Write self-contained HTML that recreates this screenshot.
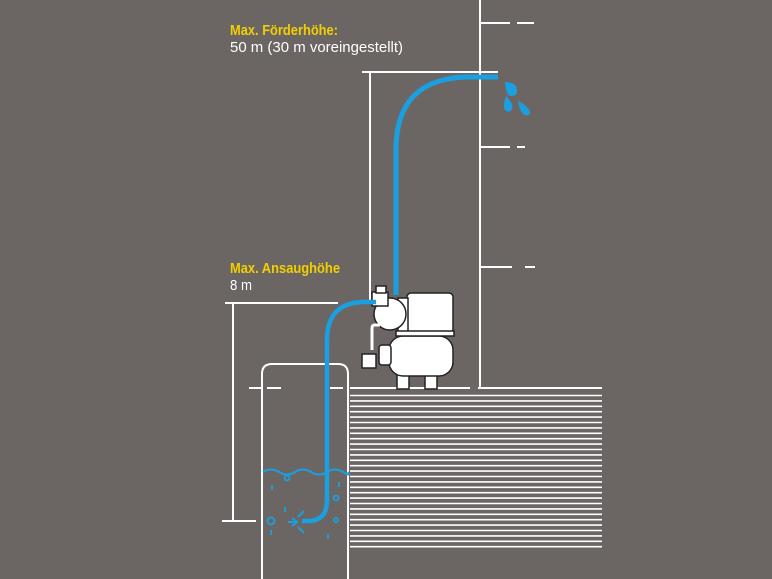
<!DOCTYPE html>
<html><head><meta charset="utf-8"><style>
html,body{margin:0;padding:0;background:#6b6664;}
svg{display:block}
</style></head><body>
<svg width="772" height="579" viewBox="0 0 772 579" xmlns="http://www.w3.org/2000/svg">
<rect width="772" height="579" fill="#6b6664"/>
<g font-family="'Liberation Sans Narrow','Liberation Sans',sans-serif" font-size="15">
<text x="230" y="35" fill="#f2cf00" font-weight="bold" textLength="108" lengthAdjust="spacingAndGlyphs">Max. Förderhöhe:</text>
<text x="230" y="52" fill="#fff" textLength="173" lengthAdjust="spacingAndGlyphs">50 m  (30 m voreingestellt)</text>
<text x="230" y="273" fill="#f2cf00" font-weight="bold" textLength="110" lengthAdjust="spacingAndGlyphs">Max. Ansaughöhe</text>
<text x="230" y="290" fill="#fff" textLength="22" lengthAdjust="spacingAndGlyphs">8 m</text>
</g>
<g stroke="#fff" stroke-width="2" fill="none">
<line x1="480" y1="0" x2="480" y2="388"/>
<line x1="480" y1="23" x2="510" y2="23"/><line x1="517" y1="23" x2="534" y2="23"/>
<line x1="480" y1="147" x2="510" y2="147"/><line x1="517" y1="147" x2="525" y2="147"/>
<line x1="480" y1="267" x2="512" y2="267"/><line x1="525" y1="267" x2="535" y2="267"/>
<line x1="362" y1="72" x2="498" y2="72"/>
<line x1="370" y1="72" x2="370" y2="300"/>
<line x1="225" y1="303" x2="338" y2="303"/>
<line x1="233" y1="303" x2="233" y2="521"/>
<line x1="222" y1="521" x2="256" y2="521"/>
<path d="M262 579 V374 Q262 364 272 364 H338 Q348 364 348 374 V579"/>
<line x1="249" y1="388" x2="261" y2="388"/><line x1="267" y1="388" x2="281" y2="388"/>
<line x1="330" y1="388" x2="343" y2="388"/>
<line x1="350" y1="388" x2="470" y2="388"/><line x1="478" y1="388" x2="602" y2="388"/>
</g>
<g stroke="#fff" stroke-width="1.6">
<path d="M350 395.5H602M350 400.9H602M350 406.3H602M350 411.7H602M350 417.1H602M350 422.5H602M350 427.9H602M350 433.3H602M350 438.7H602M350 444.1H602M350 449.5H602M350 454.9H602M350 460.3H602M350 465.7H602M350 471.1H602M350 476.5H602M350 481.9H602M350 487.3H602M350 492.7H602M350 498.1H602M350 503.5H602M350 508.9H602M350 514.3H602M350 519.7H602M350 525.1H602M350 530.5H602M350 535.9H602M350 541.3H602M350 546.7H602"/>
</g>
<!-- pump -->
<g stroke="#222" stroke-width="1.5" fill="#fff">
<rect x="397" y="372" width="12" height="17"/><rect x="425" y="372" width="12" height="17"/>
<rect x="389" y="336" width="64" height="40" rx="14"/>
<rect x="379" y="345" width="12" height="20" rx="3"/>
<rect x="362" y="354" width="14" height="14"/>
<rect x="407" y="293" width="46" height="40" rx="4"/>
<rect x="398" y="298" width="10" height="34"/>
<circle cx="390" cy="314" r="16"/>
<rect x="372" y="292" width="16" height="14"/>
<rect x="376" y="286" width="10" height="7"/>
<rect x="396" y="331" width="58" height="5"/>
</g>
<path d="M372 350 V328 Q372 325 375 325 H380" stroke="#fff" stroke-width="3" fill="none"/>
<!-- blue -->
<g stroke="#1aa0e0" fill="none" stroke-linecap="butt">
<path d="M302 521 H308 Q327 521 327 500 V340 Q327 302 365 302 H376" stroke-width="4.5"/>
<path d="M396 295 V150 Q396 77 470 77 H498" stroke-width="5"/>
<path d="M263 472 q8 -5 16 0 t16 0 t16 0 t16 0 t16 0 t5 0" stroke-width="2"/>
<path d="M288 522 H297 M292 518 l5 4 l-5 4 M298 517 q4 -4 6 -6 M298 527 q4 4 6 6" stroke-width="2"/>
<g stroke-width="1.8">
<circle cx="287" cy="478" r="2.5"/><circle cx="336" cy="498" r="2.5"/><circle cx="271" cy="521" r="3.5"/><circle cx="336" cy="520" r="2"/>
<path d="M272 485v5M339 482v5M285 507v5M271 530v5M328 534v5"/>
</g>
</g>
<g fill="#1aa0e0">
<path d="M505 82 q12 0 12 9 q0 5 -6 5 q-5 0 -6 -14z"/>
<path d="M506 96 q8 8 6 13 q-2 4 -6 2 q-4 -3 0 -15z"/>
<path d="M518 101 q10 5 12 11 q0 4 -5 3 q-5 -2 -7 -14z"/>
</g>
</svg>
</body></html>
